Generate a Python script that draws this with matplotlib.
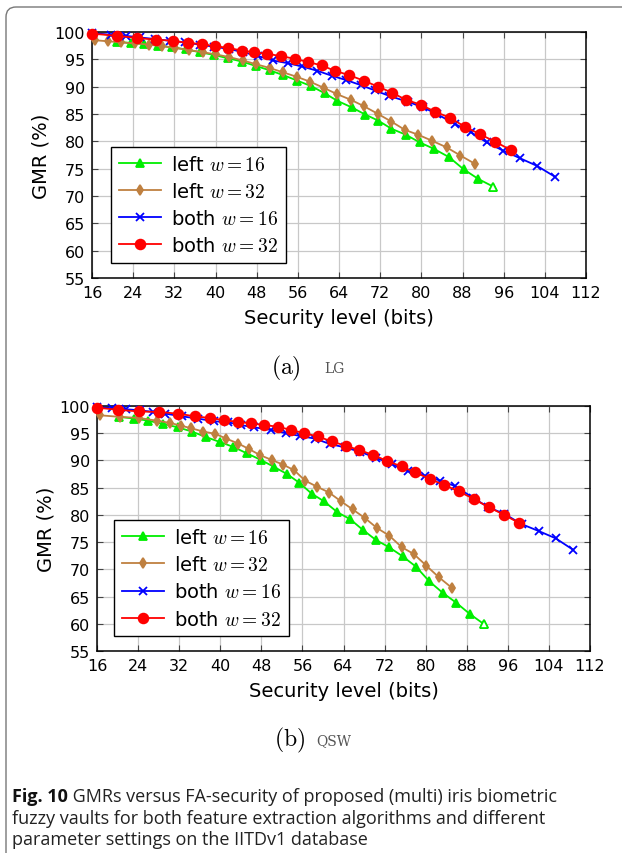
import matplotlib
matplotlib.use("Agg")
import matplotlib.pyplot as plt
from matplotlib.patches import FancyBboxPatch

plt.rcParams["font.family"] = "DejaVu Sans"
plt.rcParams["mathtext.fontset"] = "cm"

# ---- (a) LG ----
lg_left16_x = [20.8, 23.5, 26.2, 28.9, 31.6, 34.3, 37.0, 39.7, 42.4, 45.1, 47.8, 50.5, 53.2, 55.9,
               58.6, 61.2, 63.7, 66.5, 69.1, 71.6, 74.2, 77.0, 79.7, 82.5, 85.4, 88.2, 91.1, 94.0]
lg_left16_y = [98.2, 98.0, 97.8, 97.5, 97.2, 96.8, 96.3, 95.8, 95.2, 94.6, 93.8, 93.0, 92.1, 91.1,
               90.1, 88.8, 87.4, 86.2, 84.9, 83.8, 82.3, 81.2, 79.8, 78.6, 77.1, 74.9, 73.1, 71.7]
lg_left32_x = [16.5, 19.1, 21.7, 24.4, 27.0, 29.6, 32.2, 34.8, 37.5, 40.1, 42.7, 45.3, 47.9, 50.6,
               53.2, 55.8, 58.4, 61.0, 63.7, 66.3, 68.9, 71.6, 74.2, 76.8, 79.4, 82.1, 84.9, 87.6, 90.4]
lg_left32_y = [98.5, 98.3, 98.1, 97.9, 97.7, 97.4, 97.1, 96.7, 96.3, 95.9, 95.4, 94.8, 94.1, 93.4,
               92.6, 91.8, 90.9, 89.8, 88.6, 87.6, 86.4, 85.0, 83.6, 82.1, 81.2, 80.1, 78.9, 77.4, 75.9]
lg_both16_x = [16.0, 19.7, 22.6, 25.4, 28.3, 31.1, 34.0, 36.9, 39.7, 42.6, 45.4, 48.3, 51.1, 54.0,
               56.8, 59.8, 62.6, 65.4, 68.2, 71.0, 73.8, 77.5, 80.4, 83.0, 86.5, 89.6, 92.7, 95.9,
               99.2, 102.5, 106.0]
lg_both16_y = [99.8, 99.5, 99.3, 99.0, 98.7, 98.4, 98.1, 97.7, 97.3, 96.9, 96.3, 95.6, 94.8, 94.3,
               93.7, 92.9, 92.0, 91.2, 90.3, 89.3, 88.3, 87.2, 86.2, 85.0, 83.2, 81.7, 79.8, 78.3,
               76.9, 75.5, 73.5]
lg_both32_x = [16.0, 20.9, 24.8, 28.4, 31.8, 34.6, 37.4, 39.9, 42.5, 45.1, 47.5, 50.1, 52.7, 55.4,
               58.0, 60.6, 63.2, 66.0, 68.8, 71.6, 74.3, 77.0, 79.9, 82.7, 85.6, 88.4, 91.4, 94.4, 97.4]
lg_both32_y = [99.7, 99.3, 98.9, 98.6, 98.4, 98.0, 97.8, 97.4, 97.1, 96.6, 96.3, 96.0, 95.6, 95.1,
               94.5, 93.9, 92.9, 92.1, 91.1, 90.0, 88.9, 87.6, 86.7, 85.4, 84.3, 82.7, 81.3, 79.9, 78.4]

# ---- (b) QSW ----
qsw_left16_x = [20.3, 23.2, 26.0, 28.9, 31.7, 34.5, 37.2, 39.9, 42.5, 45.2, 47.9, 50.5, 53.0, 55.4,
                57.8, 60.2, 62.8, 65.3, 67.7, 70.3, 72.8, 75.5, 78.1, 80.7, 83.3, 85.9, 88.6, 91.4]
qsw_left16_y = [98.0, 97.7, 97.3, 96.7, 96.1, 95.3, 94.3, 93.4, 92.5, 91.3, 90.1, 88.8, 87.5, 85.9,
                83.9, 82.5, 80.5, 79.2, 77.3, 75.4, 74.1, 72.4, 70.5, 67.8, 65.7, 63.9, 61.8, 59.9]
qsw_left32_x = [16.5, 20.5, 24.2, 27.7, 30.2, 32.3, 34.4, 36.7, 39.0, 41.2, 43.5, 45.6, 47.7, 50.0,
                52.3, 54.4, 56.5, 58.8, 61.2, 63.5, 65.8, 68.2, 70.5, 72.9, 75.3, 77.7, 80.1, 82.5, 85.1]
qsw_left32_y = [98.3, 98.0, 97.8, 97.3, 96.9, 96.4, 95.9, 95.3, 94.9, 94.0, 93.1, 92.1, 91.0, 90.1,
                89.2, 88.2, 86.3, 85.2, 84.1, 82.5, 81.0, 79.4, 77.6, 76.2, 74.1, 72.8, 70.7, 68.6, 66.6]
qsw_both16_x = [16.0, 18.9, 21.7, 24.4, 27.0, 29.3, 32.5, 35.6, 38.7, 41.6, 44.0, 46.5, 49.9, 52.8,
                55.5, 58.5, 61.4, 64.3, 67.2, 70.3, 73.5, 76.6, 79.8, 82.8, 85.7, 89.3, 92.2, 95.3,
                98.7, 102.1, 105.3, 108.7]
qsw_both16_y = [99.8, 99.6, 99.4, 99.2, 98.9, 98.6, 98.1, 97.7, 97.2, 97.0, 96.5, 96.1, 95.6, 95.0,
                94.5, 94.0, 93.0, 92.4, 91.6, 90.5, 89.3, 88.0, 87.2, 86.3, 85.3, 83.1, 81.4, 80.2,
                78.3, 77.0, 75.7, 73.6]
qsw_both32_x = [16.0, 20.1, 24.2, 28.1, 31.7, 35.1, 38.0, 40.7, 43.4, 46.0, 48.6, 51.2, 53.8, 56.4,
                59.0, 61.7, 64.4, 67.1, 69.8, 72.5, 75.3, 78.0, 80.8, 83.6, 86.5, 89.4, 92.3, 95.3, 98.2]
qsw_both32_y = [99.7, 99.3, 99.0, 98.9, 98.6, 98.1, 97.8, 97.4, 97.1, 96.8, 96.5, 96.2, 95.6, 95.0,
                94.4, 93.5, 92.7, 91.9, 91.0, 89.9, 88.9, 87.8, 86.6, 85.5, 84.3, 82.9, 81.4, 80.0, 78.5]

labels = [r"left $w = 16$", r"left $w = 32$", r"both $w = 16$", r"both $w = 32$"]
colors = ["#00ee00", "#bf8040", "#0000ff", "#ff0000"]
markers = ["^", "d", "x", "o"]
msizes = [5.5, 5.5, 6, 7]

fig = plt.figure(figsize=(6.22, 8.54), dpi=100)

# rounded frame round the figure panel
frame = FancyBboxPatch((0.06, -1.0), 8.0, 9.46, boxstyle="round,pad=0,rounding_size=0.1",
                       transform=fig.dpi_scale_trans, fc="none", ec="#777777", lw=1.0)
fig.add_artist(frame)


def draw(ax, xs, ys, anchor):
    for i in range(4):
        ax.plot(xs[i], ys[i], color=colors[i], marker=markers[i], ms=msizes[i], lw=1.3,
                mew=1.3, label=labels[i], clip_on=False, zorder=3 + i)
    # last green mark is open
    ax.plot(xs[0][-1:], ys[0][-1:], ls="none", marker="^", ms=msizes[0], mfc="white",
            mec=colors[0], mew=1.2, clip_on=False, zorder=3)
    ax.set_xlim(16, 112)
    ax.set_ylim(55, 100)
    ax.set_xticks(range(16, 113, 8))
    ax.set_yticks(range(55, 101, 5))
    ax.grid(color="#c8c8c8", lw=0.9)
    ax.set_axisbelow(True)
    ax.tick_params(direction="in", top=True, right=True, length=4, width=0.8,
                   color="#444444", labelsize=11.5, pad=5)
    for s in ax.spines.values():
        s.set_linewidth(1.1)
    ax.set_xlabel("Security level (bits)", fontsize=14, labelpad=6)
    ax.set_ylabel("GMR (%)", fontsize=14)
    ax.yaxis.set_label_coords(-0.084, 0.5)
    leg = ax.legend(loc="lower left", bbox_to_anchor=anchor, fontsize=14, frameon=True,
                    fancybox=False, framealpha=1, edgecolor="black", handlelength=2.2,
                    handletextpad=0.5, labelspacing=0.42, borderpad=0.4, numpoints=1,
                    borderaxespad=0)
    leg.get_frame().set_linewidth(1.0)


ax1 = fig.add_axes([92 / 622, 1 - 279 / 854, 494 / 622, 246 / 854])
draw(ax1, [lg_left16_x, lg_left32_x, lg_both16_x, lg_both32_x],
     [lg_left16_y, lg_left32_y, lg_both16_y, lg_both32_y], (0.038, 0.061))

ax2 = fig.add_axes([97 / 622, 1 - 652 / 854, 493 / 622, 245 / 854])
draw(ax2, [qsw_left16_x, qsw_left32_x, qsw_both16_x, qsw_both32_x],
     [qsw_left16_y, qsw_left32_y, qsw_both16_y, qsw_both32_y], (0.034, 0.06))

# sub captions
fig.text(286 / 622, 1 - 368 / 854, r"$\mathrm{(a)}$", fontsize=17, ha="center", va="center")
fig.text(334 / 622, 1 - 369 / 854, "LG", family="DejaVu Serif", fontsize=10, color="#555555",
         ha="center", va="center")
fig.text(290 / 622, 1 - 740 / 854, r"$\mathrm{(b)}$", fontsize=17, ha="center", va="center")
fig.text(334 / 622, 1 - 741 / 854, "QSW", family="DejaVu Serif", fontsize=10, color="#555555",
         ha="center", va="center")

# figure caption
cap = fig.text(12 / 622, 1 - 797 / 854, "Fig. 10", family="Open Sans", fontweight="bold",
               fontsize=13, va="center", color="#111111")
fig.add_artist(plt.Annotation(" GMRs versus FA-security of proposed (multi) iris biometric",
                              xy=(1, 0.5), xycoords=cap, va="center", family="Open Sans",
                              fontsize=13, color="#222222"))
fig.text(12 / 622, 1 - 819 / 854, "fuzzy vaults for both feature extraction algorithms and different",
         family="Open Sans", fontsize=13, va="center", color="#222222")
fig.text(12 / 622, 1 - 840 / 854, "parameter settings on the IITDv1 database",
         family="Open Sans", fontsize=13, va="center", color="#222222")

fig.savefig("out.png", dpi=100)
